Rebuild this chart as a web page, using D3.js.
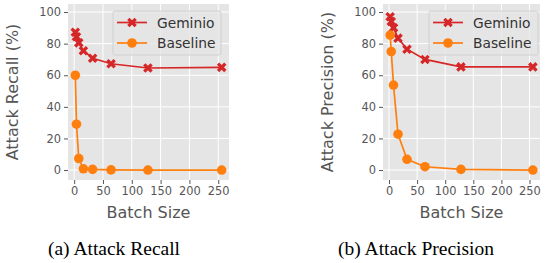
<!DOCTYPE html>
<html>
<head>
<meta charset="utf-8">
<script src="https://cdn.jsdelivr.net/npm/d3@7"></script>
<style>
  body { margin: 0; background: #fff; }
  svg text { font-family: "DejaVu Sans", sans-serif; }
</style>
</head>
<body>
<div id="chart"></div>
<script>
// batch sizes shared by both panels
var batchSizes = [2, 4, 8, 16, 32, 64, 128, 256];

// attack recall (%)
var recallGeminio = [87.2, 84.4, 80.5, 75.5, 70.8, 67.3, 64.6, 65.0];
var recallBaseline = [60.0, 29.0, 7.3, 0.8, 0.4, 0.1, 0.0, 0.0];

// attack precision (%)
var precisionGeminio = [97.0, 94.0, 90.0, 83.5, 76.5, 70.0, 65.3, 65.3];
var precisionBaseline = [85.4, 75.0, 53.8, 22.7, 6.8, 2.1, 0.4, 0.0];

var xTicks = [0, 50, 100, 150, 200, 250];
var yTicks = [0, 20, 40, 60, 80, 100];
var seriesNames = ["Geminio", "Baseline"];
var captions = ["(a) Attack Recall", "(b) Attack Precision"];

var svgWidth = 545;
var svgHeight = 263;

var red = "#d62728";
var orange = "#ff7f0e";

var svg = d3.select("#chart")
    .append("svg")
    .attr("width", svgWidth)
    .attr("height", svgHeight);

// filled "X" marker like matplotlib's
function xMarker(s, t) {
    // s = half extent, t = half arm thickness
    var pts = [[-s + t, -s], [0, -t], [s - t, -s], [s, -s + t], [t, 0], [s, s - t],
               [s - t, s], [0, t], [-s + t, s], [-s, s - t], [-t, 0], [-s, -s + t]];
    return "M" + pts.map(p => p.join(",")).join("L") + "Z";
}

function drawPanel(p) {
    var g = svg.append("g")
        .attr("transform", `translate(${p.left}, ${p.top})`);

    var xScale = d3.scaleLinear()
        .domain([-10.7, 268.7])
        .range([0, p.width]);

    var yScale = d3.scaleLinear()
        .domain([-6.3, 105.1])
        .range([p.height, 0]);

    // gray background
    g.append("rect")
        .attr("width", p.width)
        .attr("height", p.height)
        .attr("fill", "#e5e5e5");

    // white grid
    g.selectAll(".gx").data(xTicks).enter()
        .append("line")
        .attr("x1", d => xScale(d)).attr("x2", d => xScale(d))
        .attr("y1", 0).attr("y2", p.height)
        .attr("stroke", "#fff").attr("stroke-width", 1);
    g.selectAll(".gy").data(yTicks).enter()
        .append("line")
        .attr("y1", d => yScale(d)).attr("y2", d => yScale(d))
        .attr("x1", 0).attr("x2", p.width)
        .attr("stroke", "#fff").attr("stroke-width", 1);

    // axes
    var bottomAxis = d3.axisBottom(xScale).tickValues(xTicks).tickSize(4).tickPadding(3);
    var leftAxis = d3.axisLeft(yScale).tickValues(yTicks).tickSize(4).tickPadding(3);

    var xAxis = g.append("g")
        .attr("transform", `translate(0, ${p.height})`)
        .call(bottomAxis);
    var yAxis = g.append("g").call(leftAxis);

    [xAxis, yAxis].forEach(function (ax) {
        ax.select(".domain").remove();
        ax.selectAll(".tick line").attr("stroke", "#555");
        ax.selectAll(".tick text")
            .attr("fill", "#555")
            .style("font-size", "11.4px")
            .style("font-family", "DejaVu Sans");
    });

    // axis titles
    g.append("text")
        .attr("x", p.width / 2)
        .attr("y", p.height + 38)
        .attr("text-anchor", "middle")
        .attr("fill", "#555")
        .style("font-size", "16px")
        .text("Batch Size");

    g.append("text")
        .attr("transform", "rotate(-90)")
        .attr("x", -p.height / 2)
        .attr("y", p.yTitleX)
        .attr("text-anchor", "middle")
        .attr("fill", "#555")
        .style("font-size", "16px")
        .text(p.yTitle);

    var line = d3.line()
        .x(d => xScale(d[0]))
        .y(d => yScale(d[1]));

    var gemPts = batchSizes.map((b, i) => [b, p.geminio[i]]);
    var basePts = batchSizes.map((b, i) => [b, p.baseline[i]]);

    var crossPath = xMarker(4.8, 2.3);

    // Geminio
    g.append("path")
        .attr("d", line(gemPts))
        .attr("fill", "none")
        .attr("stroke", red)
        .attr("stroke-width", 1.7);
    g.selectAll(".gem").data(gemPts).enter()
        .append("path")
        .attr("d", crossPath)
        .attr("transform", d => `translate(${xScale(d[0])}, ${yScale(d[1])})`)
        .attr("fill", red);

    // Baseline
    g.append("path")
        .attr("d", line(basePts))
        .attr("fill", "none")
        .attr("stroke", orange)
        .attr("stroke-width", 1.7);
    g.selectAll(".base").data(basePts).enter()
        .append("circle")
        .attr("cx", d => xScale(d[0]))
        .attr("cy", d => yScale(d[1]))
        .attr("r", 4.8)
        .attr("fill", orange);

    // legend
    var lg = g.append("g")
        .attr("transform", `translate(${p.legendX}, 7)`);
    lg.append("rect")
        .attr("width", p.legendW)
        .attr("height", 44)
        .attr("rx", 2)
        .attr("fill", "#e5e5e5")
        .attr("fill-opacity", 0.8)
        .attr("stroke", "#cccccc")
        .attr("stroke-width", 0.8);

    seriesNames.forEach(function (name, i) {
        var ly = 11.5 + i * 20.5;
        var color = i === 0 ? red : orange;
        lg.append("line")
            .attr("x1", 4).attr("x2", 34)
            .attr("y1", ly).attr("y2", ly)
            .attr("stroke", color)
            .attr("stroke-width", 1.7);
        if (i === 0) {
            lg.append("path")
                .attr("d", crossPath)
                .attr("transform", `translate(19, ${ly})`)
                .attr("fill", color);
        } else {
            lg.append("circle")
                .attr("cx", 19).attr("cy", ly)
                .attr("r", 4.8)
                .attr("fill", color);
        }
        lg.append("text")
            .attr("x", 44)
            .attr("y", ly + 5)
            .attr("fill", "#333")
            .style("font-size", "13.8px")
            .text(name);
    });

    // caption
    svg.append("text")
        .attr("x", p.captionX)
        .attr("y", 255)
        .attr("text-anchor", "middle")
        .attr("fill", "#000")
        .style("font-family", "'Liberation Serif', 'Times New Roman', serif")
        .style("font-size", "19.5px")
        .text(p.caption);
}

drawPanel({
    left: 68, top: 4, width: 161, height: 176,
    geminio: recallGeminio, baseline: recallBaseline,
    yTitle: "Attack Recall (%)", yTitleX: -50,
    legendX: 45, legendW: 108,
    caption: captions[0], captionX: 114
});

drawPanel({
    left: 383, top: 4, width: 157, height: 176,
    geminio: precisionGeminio, baseline: precisionBaseline,
    yTitle: "Attack Precision (%)", yTitleX: -50,
    legendX: 46, legendW: 109,
    caption: captions[1], captionX: 416
});
</script>
</body>
</html>
